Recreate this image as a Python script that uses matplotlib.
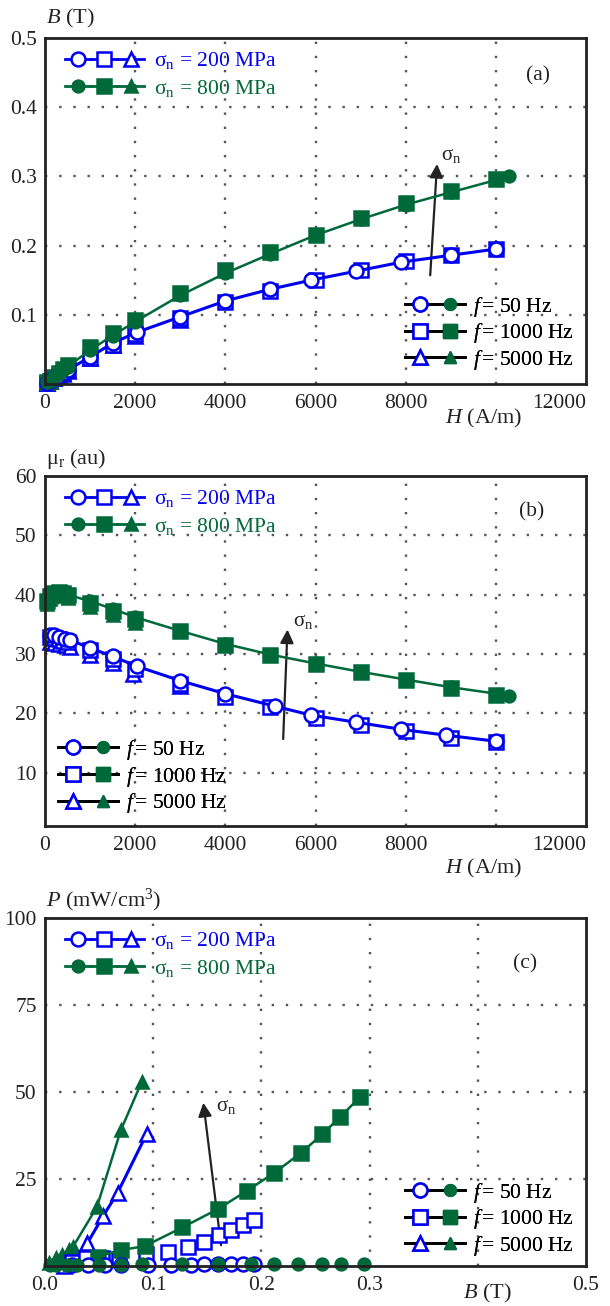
import matplotlib.pyplot as plt
from matplotlib.lines import Line2D
from matplotlib.legend_handler import HandlerTuple

plt.rcParams['font.family'] = ['Liberation Serif', 'DejaVu Serif']
plt.rcParams['mathtext.fontset'] = 'custom'
plt.rcParams['mathtext.rm'] = 'Liberation Serif'
plt.rcParams['mathtext.it'] = 'Liberation Serif:italic'
plt.rcParams['font.size'] = 15

BLUE = '#0000f0'
GREEN = '#00693a'
DARK = '#222222'

stress_labels = [r'σ$_\mathregular{n}$ = 200 MPa', r'σ$_\mathregular{n}$ = 800 MPa']
freq_labels = [r'$f\,$= 50 Hz', r'$f\,$= 1000 Hz', r'$f\,$= 5000 Hz']

# ---- (a) B vs H ----
h_a_200_50 = [50, 100, 200, 300, 400, 500, 1000, 1500, 2050, 3000, 4000, 5000, 5900, 6900, 7900, 9000, 10000]
b_a_200_50 = [0.002, 0.004, 0.008, 0.012, 0.016, 0.020, 0.039, 0.059, 0.075, 0.097, 0.120, 0.137, 0.150, 0.163, 0.176, 0.186, 0.195]
h_a_200_1000 = [50, 100, 200, 300, 400, 500, 1000, 1500, 2000, 3000, 4000, 5000, 6000, 7000, 8000, 9000, 10000]
b_a_200_1000 = [0.002, 0.004, 0.008, 0.012, 0.016, 0.020, 0.038, 0.057, 0.072, 0.095, 0.118, 0.135, 0.150, 0.164, 0.177, 0.186, 0.195]
h_a_200_5000 = [50, 100, 200, 300, 400, 500, 1000, 1500, 2000, 3000]
b_a_200_5000 = [0.002, 0.004, 0.008, 0.012, 0.015, 0.019, 0.037, 0.056, 0.069, 0.093]

h_a_800_50 = [50, 100, 200, 300, 400, 500, 1000, 1500, 2000, 3000, 4000, 5000, 6000, 7000, 8000, 9000, 10300]
b_a_800_50 = [0.0025, 0.005, 0.010, 0.015, 0.020, 0.025, 0.049, 0.070, 0.090, 0.128, 0.160, 0.188, 0.215, 0.238, 0.259, 0.277, 0.300]
h_a_800_1000 = [50, 100, 200, 300, 400, 500, 1000, 1500, 2000, 3000, 4000, 5000, 6000, 7000, 8000, 9000, 10000]
b_a_800_1000 = [0.0025, 0.005, 0.010, 0.016, 0.021, 0.027, 0.053, 0.073, 0.092, 0.131, 0.164, 0.191, 0.216, 0.240, 0.261, 0.279, 0.296]
h_a_800_5000 = [50, 100, 200, 300, 400, 500, 1000, 1500, 2000]
b_a_800_5000 = [0.002, 0.005, 0.010, 0.015, 0.019, 0.024, 0.047, 0.068, 0.087]

# ---- (b) mu_r vs H ----
h_b_200_50 = [100, 200, 300, 450, 550, 1000, 1500, 2050, 3000, 4000, 5100, 5900, 6900, 7900, 8900, 10000]
mu_b_200_50 = [33.2, 33.2, 32.9, 32.6, 32.4, 31.0, 29.6, 27.9, 25.5, 23.3, 21.2, 19.7, 18.5, 17.3, 16.3, 15.3]
h_b_200_1000 = [100, 200, 300, 400, 500, 1000, 1500, 2000, 3000, 4000, 5000, 6000, 7000, 8000, 9000, 10000]
mu_b_200_1000 = [32.8, 32.7, 32.5, 32.2, 32.0, 30.6, 29.2, 27.5, 25.0, 22.7, 21.0, 19.2, 18.1, 17.0, 15.9, 15.2]
h_b_200_5000 = [100, 200, 300, 450, 550, 1000, 1500, 1950, 3000]
mu_b_200_5000 = [32.1, 31.9, 31.7, 31.5, 31.2, 29.8, 28.4, 26.7, 24.6]

h_b_800_50 = [50, 100, 200, 300, 400, 500, 1000, 1500, 2000, 3000, 4000, 5000, 6000, 7000, 8000, 9000, 10300]
mu_b_800_50 = [38.6, 39.5, 40.2, 40.5, 40.3, 40.0, 38.9, 37.6, 36.2, 33.9, 31.7, 29.9, 28.4, 27.0, 25.7, 24.4, 23.0]
h_b_800_1000 = [50, 100, 200, 300, 400, 500, 1000, 1500, 2000, 3000, 4000, 5000, 6000, 7000, 8000, 9000, 10000]
mu_b_800_1000 = [39.0, 39.8, 40.3, 40.5, 40.3, 40.0, 38.6, 37.3, 35.9, 33.8, 31.6, 29.8, 28.3, 26.9, 25.6, 24.3, 23.1]
h_b_800_5000 = [50, 100, 200, 300, 400, 500, 1000, 1500, 2000]
mu_b_800_5000 = [38.5, 39.3, 39.8, 40.0, 39.9, 39.5, 38.0, 36.6, 35.2]

# ---- (c) P vs B ----
b_c_200_50 = [0.025, 0.040, 0.055, 0.070, 0.095, 0.116, 0.135, 0.147, 0.160, 0.172, 0.183, 0.193]
p_c_200_50 = [0.3, 0.3, 0.3, 0.3, 0.4, 0.4, 0.4, 0.5, 0.5, 0.5, 0.5, 0.5]
b_c_200_1000 = [0.025, 0.038, 0.053, 0.068, 0.093, 0.114, 0.132, 0.147, 0.161, 0.172, 0.183, 0.193]
p_c_200_1000 = [1.2, 2.2, 2.2, 2.0, 3.4, 4.1, 5.5, 7.0, 8.8, 10.3, 11.8, 13.2]
b_c_200_5000 = [0.018, 0.024, 0.039, 0.054, 0.067, 0.094]
p_c_200_5000 = [0.0, 0.8, 6.5, 14.5, 21.0, 38.0]

b_c_800_50 = [0.005, 0.010, 0.020, 0.030, 0.050, 0.070, 0.090, 0.127, 0.160, 0.190, 0.212, 0.234, 0.256, 0.274, 0.295]
p_c_800_50 = [0.3, 0.3, 0.4, 0.4, 0.4, 0.4, 0.5, 0.5, 0.5, 0.5, 0.5, 0.5, 0.5, 0.5, 0.5]
b_c_800_1000 = [0.049, 0.070, 0.092, 0.127, 0.160, 0.187, 0.212, 0.237, 0.256, 0.273, 0.291]
p_c_800_1000 = [2.7, 4.6, 5.7, 11.1, 16.4, 21.7, 26.8, 32.6, 37.8, 42.9, 48.5]
b_c_800_5000 = [0.004, 0.010, 0.016, 0.022, 0.026, 0.048, 0.070, 0.0895]
p_c_800_5000 = [1.0, 2.2, 3.2, 4.6, 5.6, 17.0, 39.0, 53.0]

MARKERS = ['o', 's', '^']
OPEN_MS = [10, 10, 10.5]
FILL_MS = [8.5, 9.5, 8]


def plot_series(ax, x, y, color, idx, filled, line=True, lw=2.0):
    ax.plot(x, y, color=color, lw=lw if line else 0, marker=MARKERS[idx],
            ms=FILL_MS[idx] if filled else OPEN_MS[idx],
            mfc=color if filled else 'white', mec=color, mew=1.8,
            clip_on=False, zorder=3 + (2 - idx) * 0.1)


def setup_axes(ax, xlim, xticks, xticklabels, ylim, yticks, yticklabels, xgrid, ygrid, last_right=False):
    ax.set_xlim(*xlim)
    ax.set_ylim(*ylim)
    ax.set_xticks(xticks, xticklabels)
    ax.set_yticks(yticks, yticklabels)
    ax.tick_params(length=0, labelsize=15.5, colors=DARK)
    ax.tick_params(axis='x', pad=7)
    ax.tick_params(axis='y', pad=6)
    if last_right:
        ax.get_xticklabels()[-1].set_horizontalalignment('right')
    for g in xgrid:
        ax.axvline(g, color='#555555', lw=1.7, ls=(0, (1, 5)), zorder=0.5)
    for g in ygrid:
        ax.axhline(g, color='#555555', lw=1.7, ls=(0, (1, 5)), zorder=0.5)
    for s in ax.spines.values():
        s.set_linewidth(2.0)
        s.set_color(DARK)
        s.set_zorder(4)


def stress_legend(ax, anchor):
    handles = []
    for color, filled in [(BLUE, False), (GREEN, True)]:
        parts = []
        for i, m in enumerate(MARKERS):
            parts.append(Line2D([], [], color=color, lw=2, marker=m,
                                ms=FILL_MS[i] if filled else OPEN_MS[i],
                                mfc=color if filled else 'white', mec=color, mew=1.8))
        handles.append(tuple(parts))
    leg = ax.legend(handles, stress_labels, handler_map={tuple: HandlerTuple(ndivide=None, pad=0)},
                    loc='upper left', bbox_to_anchor=anchor, frameon=False, numpoints=1,
                    handlelength=3.65, handletextpad=0.5, labelspacing=0.3,
                    borderpad=0, borderaxespad=0, fontsize=15.5)
    for t, c in zip(leg.get_texts(), [BLUE, GREEN]):
        t.set_color(c)
    ax.add_artist(leg)


def freq_legend(ax, anchor):
    handles = []
    for i, m in enumerate(MARKERS):
        h1 = Line2D([], [], color='black', lw=2, marker=m, ms=OPEN_MS[i], mfc='white', mec=BLUE, mew=1.8)
        h2 = Line2D([], [], color='black', lw=2, marker=m, ms=FILL_MS[i], mfc=GREEN, mec=GREEN)
        handles.append((h1, h2))
    leg = ax.legend(handles, freq_labels, handler_map={tuple: HandlerTuple(ndivide=None, pad=0)},
                    loc='lower left', bbox_to_anchor=anchor, frameon=False, numpoints=1,
                    handlelength=2.8, handletextpad=0.35, labelspacing=0.12,
                    borderpad=0, borderaxespad=0, fontsize=15.5)
    ax.add_artist(leg)


fig = plt.figure(figsize=(6.1, 13.06), dpi=100)
ax_a = fig.add_axes([0.0738, 0.7060, 0.8869, 0.2649])
ax_b = fig.add_axes([0.0738, 0.3675, 0.8869, 0.2680])
ax_c = fig.add_axes([0.0738, 0.0306, 0.8869, 0.2665])

h_ticks = [0, 2000, 4000, 6000, 8000, 10000, 12000]
h_ticklabels = ['0', '2000', '4000', '6000', '8000', '', '12000']

# (a)
setup_axes(ax_a, (0, 12000), h_ticks, h_ticklabels, (0, 0.5),
           [0.1, 0.2, 0.3, 0.4, 0.5], ['0.1', '0.2', '0.3', '0.4', '0.5'],
           [2000, 4000, 6000, 8000, 10000], [0.1, 0.2, 0.3, 0.4], last_right=True)
a_series = [(h_a_200_1000, b_a_200_1000, BLUE, 1, False), (h_a_200_5000, b_a_200_5000, BLUE, 2, False),
            (h_a_200_50, b_a_200_50, BLUE, 0, False),
            (h_a_800_1000, b_a_800_1000, GREEN, 1, True), (h_a_800_5000, b_a_800_5000, GREEN, 2, True),
            (h_a_800_50, b_a_800_50, GREEN, 0, True)]
for x, y, c, i, f in a_series:
    plot_series(ax_a, x, y, c, i, f, line=(i == 0), lw=2.2 if c == BLUE else 1.8)
ax_a.annotate('', xy=(8700, 0.322), xytext=(8540, 0.153),
              arrowprops=dict(arrowstyle='-|>', lw=1.6, color=DARK, mutation_scale=20))
ax_a.text(8780, 0.33, r'σ$_\mathregular{n}$', fontsize=15, color=DARK, ha='left', va='center')
ax_a.text(0.911, 0.89, '(a)', transform=ax_a.transAxes, ha='center', va='center', fontsize=15.5, color=DARK)
ax_a.text(0.002, 1.055, r'$B$ (T)', transform=ax_a.transAxes, ha='left', va='center', fontsize=16, color=DARK)
ax_a.text(0.81, -0.10, r'$H$ (A/m)', transform=ax_a.transAxes, ha='center', va='center', fontsize=16, color=DARK)
stress_legend(ax_a, (0.037, 0.965))
freq_legend(ax_a, (0.665, 0.035))

# (b)
setup_axes(ax_b, (0, 12000), h_ticks, h_ticklabels, (1, 60),
           [10, 20, 30, 40, 50, 60], ['10', '20', '30', '40', '50', '60'],
           [2000, 4000, 6000, 8000, 10000], [10, 20, 30, 40, 50], last_right=True)
b_series = [(h_b_200_1000, mu_b_200_1000, BLUE, 1, False), (h_b_200_5000, mu_b_200_5000, BLUE, 2, False),
            (h_b_200_50, mu_b_200_50, BLUE, 0, False),
            (h_b_800_1000, mu_b_800_1000, GREEN, 1, True), (h_b_800_5000, mu_b_800_5000, GREEN, 2, True),
            (h_b_800_50, mu_b_800_50, GREEN, 0, True)]
for x, y, c, i, f in b_series:
    plot_series(ax_b, x, y, c, i, f, line=(i == 0), lw=2.2 if c == BLUE else 1.8)
ax_b.annotate('', xy=(5380, 34.6), xytext=(5280, 15.2),
              arrowprops=dict(arrowstyle='-|>', lw=1.6, color=DARK, mutation_scale=20))
ax_b.text(5500, 35.4, r'σ$_\mathregular{n}$', fontsize=15, color=DARK, ha='left', va='center')
ax_b.text(0.90, 0.897, '(b)', transform=ax_b.transAxes, ha='center', va='center', fontsize=15.5, color=DARK)
ax_b.text(0.002, 1.05, r'μ$_\mathregular{r}$ (au)', transform=ax_b.transAxes, ha='left', va='center', fontsize=16, color=DARK)
ax_b.text(0.81, -0.12, r'$H$ (A/m)', transform=ax_b.transAxes, ha='center', va='center', fontsize=16, color=DARK)
stress_legend(ax_b, (0.037, 0.965))
freq_legend(ax_b, (0.024, 0.031))

# (c)
setup_axes(ax_c, (0, 0.5), [0, 0.1, 0.2, 0.3, 0.4, 0.5], ['0.0', '0.1', '0.2', '0.3', '', '0.5'],
           (0, 100), [25, 50, 75, 100], ['25', '50', '75', '100'],
           [0.1, 0.2, 0.3, 0.4], [25, 50, 75])
c_series = [(b_c_200_1000, p_c_200_1000, BLUE, 1, False, False),
            (b_c_200_5000, p_c_200_5000, BLUE, 2, False, True),
            (b_c_200_50, p_c_200_50, BLUE, 0, False, False),
            (b_c_800_1000, p_c_800_1000, GREEN, 1, True, True),
            (b_c_800_5000, p_c_800_5000, GREEN, 2, True, True),
            (b_c_800_50, p_c_800_50, GREEN, 0, True, False)]
for x, y, c, i, f, ln in c_series:
    plot_series(ax_c, x, y, c, i, f, line=ln, lw=2.2 if c == BLUE else 1.8)
ax_c.annotate('', xy=(0.146, 47.7), xytext=(0.163, 5.2),
              arrowprops=dict(arrowstyle='-|>', lw=1.6, color=DARK, mutation_scale=20))
ax_c.text(0.158, 45.8, r'σ$_\mathregular{n}$', fontsize=15, color=DARK, ha='left', va='center')
ax_c.text(0.887, 0.868, '(c)', transform=ax_c.transAxes, ha='center', va='center', fontsize=15.5, color=DARK)
ax_c.text(0.002, 1.05, r'$P$ (mW/cm$^\mathregular{3}$)', transform=ax_c.transAxes, ha='left', va='center', fontsize=16, color=DARK)
ax_c.text(0.817, -0.08, r'$B$ (T)', transform=ax_c.transAxes, ha='center', va='center', fontsize=16, color=DARK)
stress_legend(ax_c, (0.037, 0.965))
freq_legend(ax_c, (0.665, 0.023))

fig.savefig('out.png', dpi=100)
